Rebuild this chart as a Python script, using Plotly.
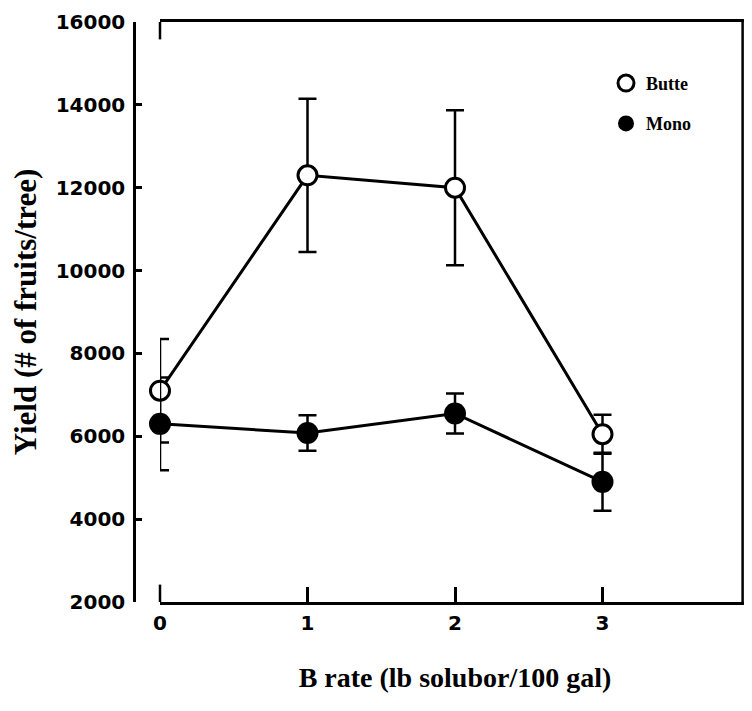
import plotly.graph_objects as go

# Data
b_rate = [0, 1, 2, 3]
butte_yield = [7100, 12300, 12000, 6050]
butte_err = [1250, 1850, 1870, 470]
mono_yield = [6300, 6080, 6550, 4900]
mono_err = [1120, 430, 480, 700]

x_ticks = [0, 1, 2, 3, 4]
y_ticks = [2000, 4000, 6000, 8000, 10000, 12000, 14000, 16000]

# page body has an 8px margin -> compensate
W, H = 744, 695
ML, MR, MT, MB = 126, 2, 12, 101
pw = W - ML - MR
ph = H - MT - MB
x0_px = 160 - 8
x_dom0 = (x0_px - ML) / pw

fig = go.Figure()

fig.add_trace(go.Scatter(
    x=b_rate, y=butte_yield, mode="lines+markers", name="Butte", showlegend=False,
    cliponaxis=False,
    line=dict(color="black", width=3),
    marker=dict(symbol="circle", size=19, color="white", line=dict(color="black", width=3)),
    error_y=dict(type="data", array=butte_err, visible=True, color="black", thickness=2.5, width=9),
))
fig.add_trace(go.Scatter(
    x=b_rate, y=mono_yield, mode="lines+markers", name="Mono", showlegend=False,
    cliponaxis=False,
    line=dict(color="black", width=3),
    marker=dict(symbol="circle", size=22, color="black"),
    error_y=dict(type="data", array=mono_err, visible=True, color="black", thickness=2.5, width=9),
))
# legend entries (markers only)
fig.add_trace(go.Scatter(
    x=[None], y=[None], mode="markers", name="Butte", legendgroup="a",
    marker=dict(symbol="circle", size=16, color="white", line=dict(color="black", width=3)),
))
fig.add_trace(go.Scatter(
    x=[None], y=[None], mode="markers", name="Mono", legendgroup="b",
    marker=dict(symbol="circle", size=16, color="black"),
))

tick_font = dict(family="DejaVu Sans", size=20, color="black", weight="bold")

fig.update_layout(
    width=W, height=H,
    margin=dict(l=ML, r=MR, t=MT, b=MB),
    paper_bgcolor="white", plot_bgcolor="white",
    xaxis=dict(
        domain=[x_dom0, 1], range=[0, 4],
        tickvals=x_ticks, ticktext=[str(v) for v in x_ticks],
        ticks="inside", ticklen=15, tickwidth=2.5, tickcolor="black",
        showline=True, linecolor="black", linewidth=2.5, mirror=True,
        showgrid=False, zeroline=False,
        tickfont=tick_font, ticklabelstandoff=1,
        title=dict(text="B rate (lb solubor/100 gal)",
                   font=dict(family="Liberation Serif", size=28, color="black", weight="bold"),
                   standoff=34),
    ),
    yaxis=dict(
        anchor="free", position=0, range=[2000, 16000],
        tickvals=y_ticks, ticktext=[str(v) for v in y_ticks],
        ticks="inside", ticklen=6, tickwidth=2.5, tickcolor="black",
        showline=True, linecolor="black", linewidth=2.5,
        showgrid=False, zeroline=False,
        tickfont=tick_font, ticklabelstandoff=4,
        title=dict(text="Yield (# of fruits/tree)",
                   font=dict(family="Liberation Serif", size=31, color="black", weight="bold"),
                   standoff=14),
    ),
    legend=dict(
        x=(598 - ML) / pw, y=(594 - 55) / ph,
        xanchor="left", yanchor="top",
        font=dict(family="Liberation Serif", size=18, color="black", weight="bold"),
        bgcolor="rgba(0,0,0,0)", tracegroupgap=14,
    ),
    shapes=[
        dict(type="line", xref="paper", yref="paper", x0=0.988, x1=0.988, y0=0, y1=1,
             line=dict(color="black", width=2.5)),
        dict(type="line", xref="paper", yref="paper", x0=x_dom0, x1=x_dom0, y0=0, y1=0.03,
             line=dict(color="black", width=2.5)),
        dict(type="line", xref="paper", yref="paper", x0=x_dom0, x1=x_dom0, y0=0.97, y1=1,
             line=dict(color="black", width=2.5)),
    ],
)

fig.write_html("out.html", config={"displayModeBar": False})
